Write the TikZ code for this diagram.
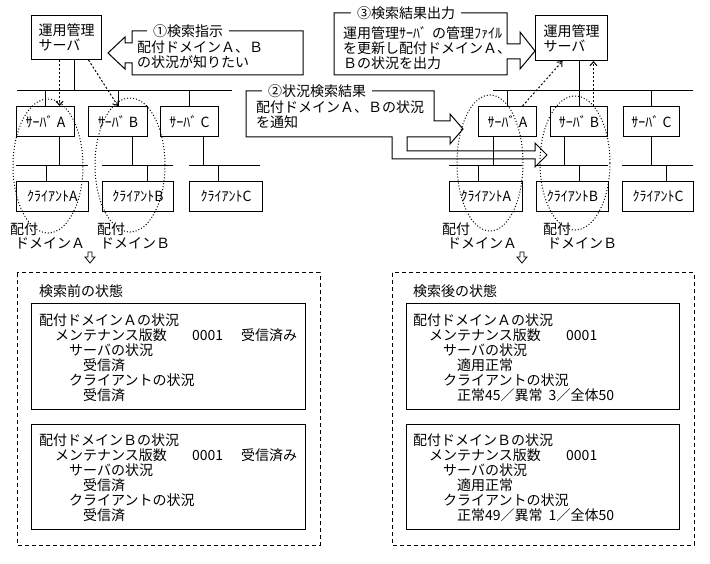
\documentclass[tikz,border=0pt]{standalone}
\usepackage{fontspec}
\setmainfont{Noto Sans CJK JP}
\usetikzlibrary{arrows.meta}
\begin{document}
\begin{tikzpicture}[x=1pt,y=-1pt,
  every node/.style={font=\fontsize{14}{15}\selectfont, inner sep=0pt},
  box/.style={draw, line width=1pt, anchor=north west, minimum height=30pt},
  txt/.style={anchor=north west, align=left},
  ln/.style={line width=1pt},
  dom/.style={line width=1pt, dash pattern=on 1pt off 2pt},
  darr/.style={line width=1pt, dash pattern=on 2pt off 2pt, -{Straight Barb[length=4pt,width=7pt]}},
  frame/.style={line width=1pt, dash pattern=on 4pt off 3pt},
  tag/.style={fill=white, inner xsep=6pt, inner ysep=1pt, anchor=west},
  lbl/.style={anchor=north west, align=left, font=\fontsize{14}{14}\selectfont},
  downarr/.style={line width=0.8pt}
]
\useasboundingbox (0,0) rectangle (710,564);

% ---------------- left network ----------------
\node[box, minimum width=70pt, minimum height=44pt, align=left] (mgrL) at (31,15) {運用管理\\サーバ};
\node[box, minimum width=58pt] (sAL) at (16,106) {ｻｰﾊﾞ A};
\node[box, minimum width=59pt] (sBL) at (88,106) {ｻｰﾊﾞ B};
\node[box, minimum width=58pt] (sCL) at (160,106) {ｻｰﾊﾞ C};
\node[box, minimum width=72pt] (cAL) at (16,181) {ｸﾗｲｱﾝﾄA};
\node[box, minimum width=71pt] (cBL) at (102,181) {ｸﾗｲｱﾝﾄB};
\node[box, minimum width=73pt] (cCL) at (189,181) {ｸﾗｲｱﾝﾄC};

\coordinate (busL0) at (17,91);  \coordinate (busL1) at (232,91);
\coordinate (cbAL0) at (16,166); \coordinate (cbAL1) at (88,166);
\coordinate (cbBL0) at (102,166); \coordinate (cbBL1) at (173,166);
\coordinate (cbCL0) at (189,166); \coordinate (cbCL1) at (260,166);
\draw[ln] (busL0) -- (busL1);
\draw[ln] (cbAL0) -- (cbAL1);
\draw[ln] (cbBL0) -- (cbBL1);
\draw[ln] (cbCL0) -- (cbCL1);
\draw[ln] ([xshift=8pt]mgrL.south) -- ([xshift=8pt]mgrL.south |- busL0);
\draw[ln] (sAL.north |- busL0) -- (sAL.north);
\draw[ln] (sBL.north |- busL0) -- (sBL.north);
\draw[ln] (sCL.north |- busL0) -- (sCL.north);
\draw[ln] ([xshift=14pt]sAL.south) -- ([xshift=14pt]sAL.south |- cbAL0);
\draw[ln] ([xshift=14.5pt]sBL.south) -- ([xshift=14.5pt]sBL.south |- cbBL0);
\draw[ln] ([xshift=14pt]sCL.south) -- ([xshift=14pt]sCL.south |- cbCL0);
\draw[ln] ([xshift=-6pt]cAL.north) -- ([xshift=-6pt]cAL.north |- cbAL0);
\draw[ln] ([xshift=9.5pt]cBL.north) -- ([xshift=9.5pt]cBL.north |- cbBL0);
\draw[ln] ([xshift=-7.5pt]cCL.north) -- ([xshift=-7.5pt]cCL.north |- cbCL0);

\draw[dom] (48,166) ellipse [x radius=35pt, y radius=67pt];
\draw[dom] (130,165) ellipse [x radius=35pt, y radius=67pt];

\draw[darr] ([xshift=-7pt]mgrL.south) -- ([xshift=14pt]sAL.north);
\draw[darr] ([xshift=22pt]mgrL.south) -- (sBL.north);

\node[lbl] (dAL) at (10,223) {配付\\\hspace*{5pt}ドメインＡ};
\node[lbl] (dBL) at (97,223) {配付\\\hspace*{3pt}ドメインＢ};
\draw[downarr] (88,252) -- (92,252) -- (92,257) -- (95,257) -- (90,263) -- (85,257) -- (88,257) -- cycle;

% callout 1
\draw[ln] (303,31) -- (303,75) -- (132,75) -- (132,63) -- (125,63) -- (125,69) -- (108,53) -- (125,37) -- (125,43) -- (132,43) -- (132,31) -- cycle;
\node[tag] (t1) at (147,31) {①検索指示};
\node[txt] (t1body) at (137,41) {配付ドメインＡ、Ｂ\\の状況が知りたい};

% callout 2
\draw[ln] (246,91) -- (434,91) -- (434,121) -- (450,121) -- (450,114) -- (463,129) -- (450,144) -- (450,137) -- (407,137) -- (407,151) -- (535,151) -- (535,143) -- (547,155) -- (535,167) -- (535,159) -- (392,159) -- (392,137) -- (246,137) -- cycle;
\node[tag] (t2) at (262,91) {②状況検索結果};
\node[txt] (t2body) at (256,101) {配付ドメインＡ、Ｂの状況\\を通知};

% callout 3
\draw[ln] (334,13) -- (507,13) -- (507,44) -- (520,44) -- (520,32) -- (535,51) -- (520,69) -- (520,59) -- (507,59) -- (507,75) -- (334,75) -- cycle;
\node[tag] (t3) at (351,13) {③検索結果出力};
\node[txt] (t3body) at (343,26) {運用管理ｻｰﾊﾞ\hspace{5pt}の管理ﾌｧｲﾙ\\を更新し配付ドメインＡ、\\Ｂの状況を出力};

% ---------------- right network ----------------
\node[box, minimum width=72pt, minimum height=45pt, align=left] (mgrR) at (535,15) {運用管理\\サーバ};
\node[box, minimum width=58pt] (sAR) at (478,106) {ｻｰﾊﾞ A};
\node[box, minimum width=57pt] (sBR) at (550,106) {ｻｰﾊﾞ B};
\node[box, minimum width=56pt] (sCR) at (623,106) {ｻｰﾊﾞ C};
\node[box, minimum width=73pt] (cAR) at (449,181) {ｸﾗｲｱﾝﾄA};
\node[box, minimum width=72pt] (cBR) at (536,181) {ｸﾗｲｱﾝﾄB};
\node[box, minimum width=71pt] (cCR) at (622,181) {ｸﾗｲｱﾝﾄC};

\coordinate (busR0) at (493,91);  \coordinate (busR1) at (693,91);
\coordinate (cbAR0) at (449,166); \coordinate (cbAR1) at (522,166);
\coordinate (cbBR0) at (536,166); \coordinate (cbBR1) at (608,166);
\coordinate (cbCR0) at (622,166); \coordinate (cbCR1) at (693,166);
\draw[ln] (busR0) -- (busR1);
\draw[ln] (cbAR0) -- (cbAR1);
\draw[ln] (cbBR0) -- (cbBR1);
\draw[ln] (cbCR0) -- (cbCR1);
\draw[ln] ([xshift=8pt]mgrR.south) -- ([xshift=8pt]mgrR.south |- busR0);
\draw[ln] (sAR.north |- busR0) -- (sAR.north);
\draw[ln] (sBR.north |- busR0) -- (sBR.north);
\draw[ln] (sCR.north |- busR0) -- (sCR.north);
\draw[ln] ([xshift=-14pt]sAR.south) -- ([xshift=-14pt]sAR.south |- cbAR0);
\draw[ln] ([xshift=-14.5pt]sBR.south) -- ([xshift=-14.5pt]sBR.south |- cbBR0);
\draw[ln] (sCR.south) -- (sCR.south |- cbCR0);
\draw[ln] ([xshift=-7.5pt]cAR.north) -- ([xshift=-7.5pt]cAR.north |- cbAR0);
\draw[ln] ([xshift=7pt]cBR.north) -- ([xshift=7pt]cBR.north |- cbBR0);
\draw[ln] ([xshift=8.5pt]cCR.north) -- ([xshift=8.5pt]cCR.north |- cbCR0);

\draw[dom] (490,163) ellipse [x radius=33pt, y radius=68pt];
\draw[dom] (575,163) ellipse [x radius=35pt, y radius=67pt];

\draw[darr] ([xshift=15pt]sAR.north) -- ([xshift=-9pt]mgrR.south);
\draw[darr] ([xshift=14.5pt]sBR.north) -- ([xshift=22pt]mgrR.south);

\node[lbl] (dAR) at (442,223) {配付\\\hspace*{5pt}ドメインＡ};
\node[lbl] (dBR) at (543,223) {配付\\\hspace*{4pt}ドメインＢ};
\draw[downarr] (520,252) -- (524,252) -- (524,257) -- (527,257) -- (522,263) -- (517,257) -- (520,257) -- cycle;

% ---------------- bottom: before ----------------
\draw[frame] (17,273) rectangle (320,545);
\node[txt] (titL) at (39,284) {検索前の状態};
\node[box, minimum width=274pt, minimum height=106pt] (bAL) at (31,303) {};
\node[box, minimum width=274pt, minimum height=105pt] (bBL) at (31,424) {};
\node[txt] (bAtL) at (39,314) {配付ドメインＡの状況\\
\hspace*{16pt}\makebox[137pt][l]{メンテナンス版数}\makebox[49pt][l]{0001}受信済み\\
\hspace*{30pt}サーバの状況\\
\hspace*{44pt}受信済\\
\hspace*{30pt}クライアントの状況\\
\hspace*{44pt}受信済};
\node[txt] (bBtL) at (39,434) {配付ドメインＢの状況\\
\hspace*{16pt}\makebox[137pt][l]{メンテナンス版数}\makebox[49pt][l]{0001}受信済み\\
\hspace*{30pt}サーバの状況\\
\hspace*{44pt}受信済\\
\hspace*{30pt}クライアントの状況\\
\hspace*{44pt}受信済};

% ---------------- bottom: after ----------------
\draw[frame] (392,273) rectangle (694,545);
\node[txt] (titR) at (413,284) {検索後の状態};
\node[box, minimum width=273pt, minimum height=106pt] (bAR) at (406,303) {};
\node[box, minimum width=273pt, minimum height=105pt] (bBR) at (406,424) {};
\node[txt] (bAtR) at (413,314) {配付ドメインＡの状況\\
\hspace*{16pt}\makebox[137pt][l]{メンテナンス版数}0001\\
\hspace*{30pt}サーバの状況\\
\hspace*{44pt}適用正常\\
\hspace*{30pt}クライアントの状況\\
\hspace*{44pt}正常45／異常\hspace{6pt}3／全体50};
\node[txt] (bBtR) at (413,434) {配付ドメインＢの状況\\
\hspace*{16pt}\makebox[137pt][l]{メンテナンス版数}0001\\
\hspace*{30pt}サーバの状況\\
\hspace*{44pt}適用正常\\
\hspace*{30pt}クライアントの状況\\
\hspace*{44pt}正常49／異常\hspace{6pt}1／全体50};
\end{tikzpicture}
\end{document}
